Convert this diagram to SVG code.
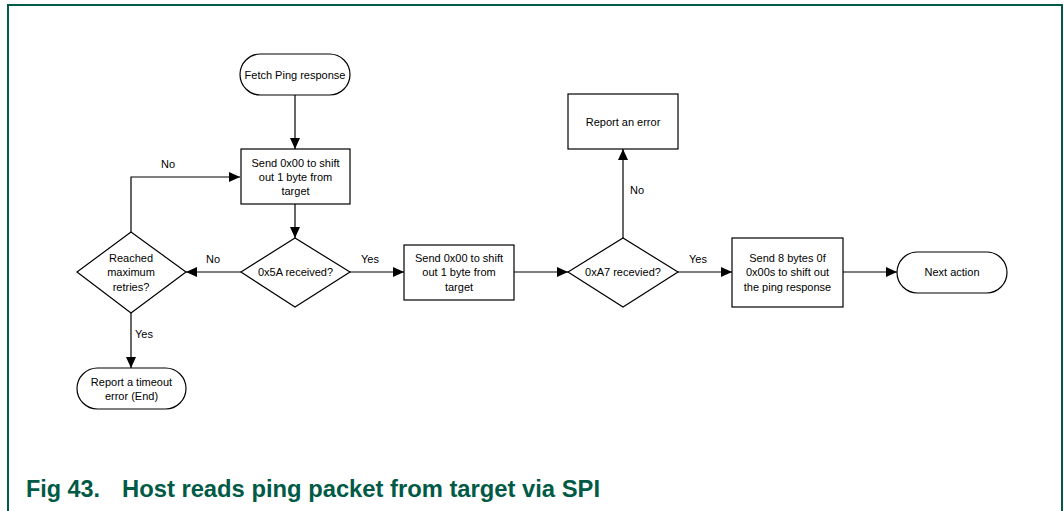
<svg xmlns="http://www.w3.org/2000/svg" width="1064" height="511" viewBox="0 0 1064 511">
<style>
.node{fill:#fff;stroke:#000;stroke-width:1.2}
.t{font-family:"Liberation Sans",Arial,sans-serif;font-size:11px;fill:#000;text-anchor:middle}
.lbl{font-family:"Liberation Sans",Arial,sans-serif;font-size:11px;fill:#000;text-anchor:middle}
.conn{fill:none;stroke:#000;stroke-width:1.2;marker-end:url(#arr)}
.cap{font-family:"Liberation Sans",Arial,sans-serif;font-size:24px;font-weight:bold;fill:#005a46}
</style>
<defs>
<marker id="arr" markerUnits="userSpaceOnUse" markerWidth="12" markerHeight="10" refX="11" refY="5" orient="auto">
<path d="M0,0 L11,5 L0,10 Z" fill="#000"/>
</marker>
</defs>
<rect width="1064" height="511" fill="#fff"/>
<path d="M8,511 V5 H1062 V511" fill="none" stroke="#005a46" stroke-width="2"/>

<g id="connectors">
<path class="conn" d="M295,95 V149"/>
<path class="conn" d="M295,204 V238"/>
<path class="conn" d="M241,272 H186"/>
<path class="conn" d="M131,232 V177 H240"/>
<path class="conn" d="M131,313 V368"/>
<path class="conn" d="M350,272 H404"/>
<path class="conn" d="M514,272 H568"/>
<path class="conn" d="M623,238 V149"/>
<path class="conn" d="M678,272 H732"/>
<path class="conn" d="M843,272 H897"/>
<text class="lbl" x="213" y="263">No</text>
<text class="lbl" x="168" y="168">No</text>
<text class="lbl" x="144" y="338">Yes</text>
<text class="lbl" x="370" y="263">Yes</text>
<text class="lbl" x="637" y="194">No</text>
<text class="lbl" x="698" y="263">Yes</text>
</g>

<g id="start">
<rect class="node" x="240" y="54" width="110" height="41" rx="20.5"/>
<text class="t" x="295" y="78.5">Fetch Ping response</text>
</g>
<g id="send1">
<rect class="node" x="241" y="149" width="109" height="55"/>
<text class="t" x="295.5" y="167">Send 0x00 to shift</text>
<text class="t" x="295.5" y="181">out 1 byte from</text>
<text class="t" x="295.5" y="195">target</text>
</g>
<g id="check5a">
<polygon class="node" points="241,272 295,238 350,272 295,307"/>
<text class="t" x="295.5" y="276">0x5A received?</text>
</g>
<g id="retries">
<polygon class="node" points="77,272 131,232 186,272 131,313"/>
<text class="t" x="131" y="262">Reached</text>
<text class="t" x="131" y="276">maximum</text>
<text class="t" x="131" y="291">retries?</text>
</g>
<g id="timeout">
<rect class="node" x="77" y="368" width="109" height="41" rx="20.5"/>
<text class="t" x="131.5" y="386">Report a timeout</text>
<text class="t" x="131.5" y="400">error (End)</text>
</g>
<g id="send2">
<rect class="node" x="404" y="245" width="110" height="55"/>
<text class="t" x="459" y="262">Send 0x00 to shift</text>
<text class="t" x="459" y="276">out 1 byte from</text>
<text class="t" x="459" y="291">target</text>
</g>
<g id="checka7">
<polygon class="node" points="568,272 623,238 678,272 623,307"/>
<text class="t" x="623" y="276">0xA7 recevied?</text>
</g>
<g id="error">
<rect class="node" x="568" y="94" width="110" height="55"/>
<text class="t" x="623" y="126">Report an error</text>
</g>
<g id="send8">
<rect class="node" x="732" y="238" width="111" height="69"/>
<text class="t" x="787.5" y="262">Send 8 bytes 0f</text>
<text class="t" x="787.5" y="276">0x00s to shift out</text>
<text class="t" x="787.5" y="291">the ping response</text>
</g>
<g id="next">
<rect class="node" x="897" y="252" width="110" height="41" rx="20.5"/>
<text class="t" x="952" y="276">Next action</text>
</g>

<g id="caption">
<text class="cap" x="26" y="497" textLength="74" lengthAdjust="spacingAndGlyphs">Fig 43.</text>
<text class="cap" x="122" y="497" textLength="478" lengthAdjust="spacingAndGlyphs">Host reads ping packet from target via SPI</text>
</g>
</svg>
